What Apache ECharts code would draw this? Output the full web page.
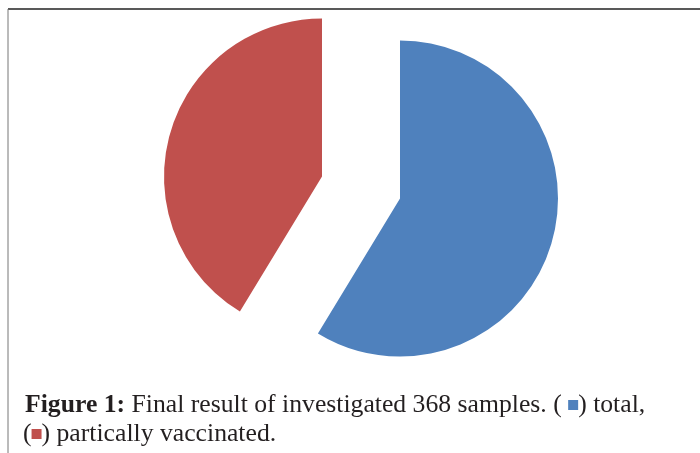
<!DOCTYPE html>
<html><head><meta charset="utf-8">
<script src="https://cdn.jsdelivr.net/npm/echarts@6/dist/echarts.min.js"></script>
<style>html,body{margin:0;padding:0;background:#fff}#c{width:700px;height:453px}</style>
</head><body><div id="c"></div>
<script>
const categories = ['total', 'partically vaccinated'];
const values = [216, 152];
const colors = ['#4F81BD', '#C0504D'];

const chart = echarts.init(document.getElementById('c'), null, {renderer: 'canvas'});
const FF = 'Liberation Serif';
const FS = 25.7;
const sq = c => ({width: 10, height: 10, backgroundColor: c, fontSize: 10, lineHeight: 10, verticalAlign: 'middle'});
chart.setOption({
  animation: false,
  backgroundColor: '#fff',
  title: [{
    left: 20, top: 387,
    text: '{b|Figure 1:} Final result of investigated 368 samples. ( {s1|}) total,',
    textStyle: {
      fontFamily: FF, fontSize: FS, fontWeight: 'normal', color: '#231f20',
      rich: {b: {fontFamily: FF, fontSize: FS, fontWeight: 'bold', color: '#231f20'}, s1: sq(colors[0])}
    }
  }, {
    left: 18, top: 416,
    text: '({s2|}) partically vaccinated.',
    textStyle: {
      fontFamily: FF, fontSize: FS, fontWeight: 'normal', color: '#231f20',
      rich: {s2: sq(colors[1])}
    }
  }],
  graphic: [
    {type: 'line', shape: {x1: 8, y1: 9, x2: 700, y2: 9}, style: {stroke: '#222', lineWidth: 1.5}, silent: true},
    {type: 'line', shape: {x1: 8, y1: 9, x2: 8, y2: 453}, style: {stroke: '#777', lineWidth: 1}, silent: true}
  ],
  series: [{
    type: 'pie',
    center: [361, 187.5],
    radius: 158,
    startAngle: 90,
    clockwise: true,
    selectedMode: 'multiple',
    selectedOffset: 40.5,
    label: {show: false},
    labelLine: {show: false},
    emphasis: {disabled: true},
    data: categories.map((n, i) => ({name: n, value: values[i], selected: true, itemStyle: {color: colors[i]}}))
  }]
});
</script></body></html>
